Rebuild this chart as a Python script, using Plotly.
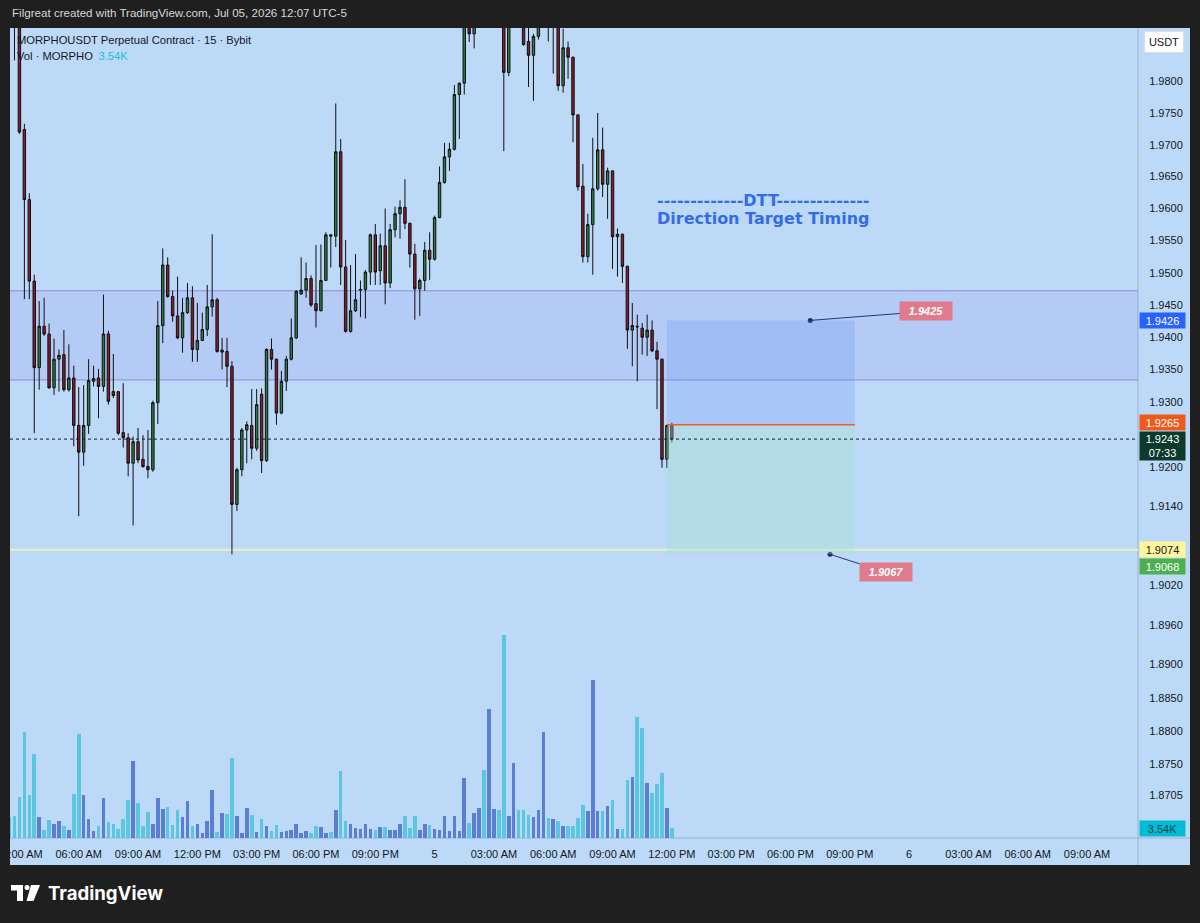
import math
import pandas as pd
import plotly.graph_objects as go

# ---------------- data ----------------
START = "2026-07-04 02:30"   # first 15-minute bar

open_ = [1.9960,1.9950,1.9915,1.9724,1.9614,1.9487,1.9353,1.9417,1.9405,1.9322,
         1.9366,1.9373,1.9319,1.9337,1.9264,1.9223,1.9264,1.9332,1.9337,1.9324,
         1.9405,1.9316,1.9316,1.9253,1.9245,1.9206,1.9239,1.9212,1.9201,1.9196,
         1.9299,1.9418,1.9512,1.9463,1.9433,1.9399,1.9438,1.9461,1.9381,1.9395,
         1.9412,1.9447,1.9458,1.9377,1.9378,1.9355,1.9143,1.9196,1.9257,1.9264,
         1.9229,1.9312,1.9210,1.9381,1.9366,1.9283,1.9332,1.9366,1.9399,1.9467,
         1.9473,1.9491,1.9452,1.9441,1.9488,1.9559,1.9557,1.9689,1.9509,1.9409,
         1.9441,1.9473,1.9474,1.9501,1.9559,1.9503,1.9542,1.9484,1.9567,1.9592,
         1.9602,1.9577,1.9529,1.9475,1.9488,1.9535,1.9521,1.9586,1.9641,1.9681,
         1.9693,1.9779,1.9797,1.9900,1.9875,1.9900,1.9920,1.9905,1.9950,1.9965,
         1.9930,1.9814,1.9900,1.9930,1.9910,1.9863,1.9841,1.9871,1.9900,1.9920,
         1.9890,1.9895,1.9793,1.9853,1.9838,1.9747,1.9635,1.9525,1.9575,1.9631,
         1.9692,1.9638,1.9659,1.9556,1.9560,1.9510,1.9411,1.9417,1.9414,1.9400,
         1.9411,1.9379,1.9366,1.9212,1.9265]

high = [1.9990,1.9965,1.9925,1.9733,1.9624,1.9497,1.9456,1.9461,1.9421,1.9398,
        1.9381,1.9411,1.9389,1.9356,1.9323,1.9326,1.9366,1.9356,1.9351,1.9466,
        1.9410,1.9374,1.9317,1.9329,1.9252,1.9247,1.9260,1.9249,1.9257,1.9302,
        1.9456,1.9538,1.9524,1.9472,1.9494,1.9461,1.9484,1.9479,1.9453,1.9438,
        1.9481,1.9560,1.9461,1.9399,1.9399,1.9363,1.9199,1.9260,1.9270,1.9320,
        1.9320,1.9321,1.9383,1.9398,1.9367,1.9348,1.9371,1.9429,1.9473,1.9524,
        1.9516,1.9496,1.9543,1.9544,1.9563,1.9560,1.9765,1.9709,1.9551,1.9512,
        1.9529,1.9488,1.9504,1.9561,1.9576,1.9561,1.9600,1.9576,1.9603,1.9613,
        1.9646,1.9578,1.9545,1.9491,1.9548,1.9563,1.9589,1.9666,1.9703,1.9703,
        1.9794,1.9798,1.9910,1.9910,1.9910,1.9940,1.9960,1.9970,1.9980,1.9975,
        1.9950,1.9920,1.9950,1.9945,1.9920,1.9890,1.9875,1.9910,1.9940,1.9930,
        1.9910,1.9910,1.9883,1.9863,1.9839,1.9748,1.9670,1.9592,1.9711,1.9750,
        1.9727,1.9664,1.9660,1.9569,1.9561,1.9511,1.9453,1.9435,1.9422,1.9435,
        1.9426,1.9393,1.9367,1.9265,1.9268]

low = [1.9920,1.9833,1.9717,1.9459,1.9459,1.9252,1.9319,1.9402,1.9320,1.9311,
       1.9316,1.9316,1.9316,1.9232,1.9125,1.9202,1.9251,1.9324,1.9275,1.9316,
       1.9296,1.9306,1.9249,1.9230,1.9186,1.9111,1.9206,1.9199,1.9183,1.9193,
       1.9266,1.9391,1.9461,1.9424,1.9397,1.9376,1.9436,1.9362,1.9362,1.9394,
       1.9402,1.9432,1.9376,1.9350,1.9323,1.9067,1.9133,1.9186,1.9206,1.9212,
       1.9225,1.9191,1.9208,1.9350,1.9265,1.9281,1.9317,1.9364,1.9397,1.9466,
       1.9461,1.9447,1.9415,1.9440,1.9487,1.9508,1.9540,1.9481,1.9407,1.9407,
       1.9439,1.9431,1.9429,1.9481,1.9481,1.9481,1.9451,1.9476,1.9555,1.9553,
       1.9568,1.9508,1.9427,1.9433,1.9472,1.9489,1.9519,1.9585,1.9639,1.9659,
       1.9691,1.9709,1.9779,1.9862,1.9852,1.9888,1.9890,1.9895,1.9930,1.9915,
       1.9690,1.9808,1.9888,1.9895,1.9856,1.9791,1.9769,1.9866,1.9889,1.9863,
       1.9812,1.9785,1.9782,1.9804,1.9704,1.9628,1.9516,1.9516,1.9497,1.9628,
       1.9618,1.9584,1.9506,1.9494,1.9484,1.9382,1.9355,1.9332,1.9373,1.9371,
       1.9377,1.9289,1.9199,1.9199,1.9238]

close = [1.9940,1.9915,1.9720,1.9614,1.9487,1.9353,1.9417,1.9405,1.9322,1.9366,
         1.9372,1.9319,1.9337,1.9264,1.9223,1.9264,1.9333,1.9336,1.9324,1.9405,
         1.9301,1.9310,1.9252,1.9245,1.9206,1.9239,1.9211,1.9201,1.9196,1.9299,
         1.9418,1.9512,1.9463,1.9433,1.9399,1.9438,1.9461,1.9381,1.9395,1.9412,
         1.9447,1.9458,1.9378,1.9380,1.9355,1.9143,1.9196,1.9257,1.9265,1.9229,
         1.9296,1.9210,1.9381,1.9366,1.9283,1.9332,1.9366,1.9399,1.9471,1.9473,
         1.9491,1.9450,1.9441,1.9488,1.9559,1.9557,1.9689,1.9509,1.9409,1.9441,
         1.9458,1.9474,1.9501,1.9559,1.9501,1.9542,1.9484,1.9567,1.9592,1.9602,
         1.9577,1.9529,1.9475,1.9488,1.9535,1.9521,1.9586,1.9641,1.9681,1.9693,
         1.9779,1.9797,1.9895,1.9875,1.9900,1.9920,1.9905,1.9950,1.9965,1.9930,
         1.9814,1.9900,1.9930,1.9910,1.9858,1.9841,1.9871,1.9900,1.9920,1.9895,
         1.9895,1.9793,1.9853,1.9838,1.9747,1.9634,1.9525,1.9575,1.9631,1.9692,
         1.9638,1.9659,1.9556,1.9560,1.9510,1.9411,1.9418,1.9416,1.9400,1.9411,
         1.9379,1.9366,1.9212,1.9264,1.9243]

volume_k = [7.33,7.89,14.41,37.52,15.33,29.74,7.43,2.83,6.48,5.06,
            6.12,4.14,2.73,15.68,36.92,15.33,6.83,2.37,4.14,14.27,
            5.56,5.06,3.08,6.62,13.45,27.36,12.28,4.25,9.31,4.85,
            14.27,10.37,10.87,4.60,10.02,7.33,13.10,4.25,5.06,1.88,
            5.91,16.89,2.23,8.96,8.39,28.43,7.89,1.77,10.73,8.25,
            2.12,6.83,4.25,2.37,4.60,2.12,2.48,2.83,5.06,1.77,
            2.48,1.88,4.25,3.79,1.77,2.23,10.02,23.61,5.91,5.06,
            3.54,3.19,5.06,3.08,2.73,3.79,3.79,2.73,2.73,5.06,
            7.89,3.43,7.89,2.73,5.06,4.71,3.19,2.73,7.89,2.37,
            7.89,2.48,21.24,5.42,8.96,10.62,24.18,45.67,10.37,9.91,
            71.97,7.89,26.55,10.02,10.02,8.25,7.33,9.91,37.52,7.19,
            6.83,6.02,4.14,4.35,4.35,7.19,11.68,9.56,55.93,9.56,
            9.45,11.33,13.56,3.08,3.08,20.53,21.49,42.94,38.94,19.36,
            15.93,19.12,23.12,10.73,3.54]

# drawings / levels
zone_top = 1.9472
zone_bottom = 1.9334
support_level = 1.9074
target_price = 1.9426
entry_price = 1.9265
stop_price = 1.9068
last_price = 1.9243
countdown = "07:33"
target_label = "1.9425"
stop_label = "1.9067"
target_dot = ("2026-07-05 19:00", 1.9426)
stop_dot = ("2026-07-05 20:00", 1.9067)
position_start = "2026-07-05 11:45"
position_end = "2026-07-05 21:15"

price_ticks = [1.9800, 1.9750, 1.9700, 1.9650, 1.9600, 1.9550, 1.9500, 1.9450,
               1.9400, 1.9350, 1.9300, 1.9200, 1.9140, 1.9020, 1.8960,
               1.8900, 1.8850, 1.8800, 1.8750, 1.8705]

time_ticks = pd.date_range("2026-07-04 03:00", "2026-07-06 09:00", freq="3h")
time_labels = ["03:00 AM", "06:00 AM", "09:00 AM", "12:00 PM", "03:00 PM", "06:00 PM", "09:00 PM",
               "5", "03:00 AM", "06:00 AM", "09:00 AM", "12:00 PM", "03:00 PM", "06:00 PM", "09:00 PM",
               "6", "03:00 AM", "06:00 AM", "09:00 AM"]

# ---------------- figure ----------------
times = pd.date_range(START, periods=len(open_), freq="15min")

W, H = 1200, 923
ML, MR, MT, MB = 10, 62, 28, 85
PW, PH = W - ML - MR, H - MT - MB


def px_x(px):
    return (px - ML) / PW


def px_y(py):
    return (MT + PH - py) / PH


BG = "#bcd9f8"
DARK = "#1f1f1f"
TXT = "#131722"
AX_FONT = "Liberation Sans, Arial, sans-serif"
UP_VOL = "#5b7dd3"
DN_VOL = "#5cc6e0"
DTT_BLUE = "#356ce6"

x_range = ["2026-07-04 02:31:25", "2026-07-06 11:34:40"]
y_low, y_high = 1.86405, 1.98843
vol_axis_max = 286.7

vol_colors = [UP_VOL if c >= o else DN_VOL for o, c in zip(open_, close)]

fig = go.Figure()
fig.add_trace(go.Bar(x=times, y=volume_k, yaxis="y2", marker=dict(color=vol_colors, line=dict(width=0)),
                     width=15 * 60 * 1000 * 0.72, hoverinfo="skip", showlegend=False))
fig.add_trace(go.Candlestick(
    x=times, open=open_, high=high, low=low, close=close,
    increasing=dict(line=dict(color="#101010", width=1), fillcolor="#2f7a43"),
    decreasing=dict(line=dict(color="#101010", width=1), fillcolor="#8a1b2c"),
    whiskerwidth=0, hoverinfo="skip", showlegend=False))
fig.add_trace(go.Scatter(x=[target_dot[0], stop_dot[0]], y=[target_dot[1], stop_dot[1]], mode="markers",
                         marker=dict(color="#1c2a78", size=5), hoverinfo="skip", showlegend=False))

shapes = []
# chart panel
shapes.append(dict(type="rect", xref="paper", yref="paper", x0=px_x(10), x1=px_x(1190),
                   y0=px_y(865), y1=px_y(28), fillcolor=BG, line=dict(width=0), layer="below"))
# separators
shapes.append(dict(type="line", xref="paper", yref="paper", x0=1, x1=1, y0=px_y(865), y1=px_y(28),
                   line=dict(color="#9cb2cf", width=1), layer="below"))
shapes.append(dict(type="line", xref="paper", yref="paper", x0=px_x(10), x1=px_x(1190), y0=0, y1=0,
                   line=dict(color="#9cb2cf", width=1), layer="below"))
# zone
shapes.append(dict(type="rect", xref="paper", yref="y", x0=0, x1=1, y0=zone_bottom, y1=zone_top,
                   fillcolor="rgba(125,110,225,0.13)", line=dict(width=0), layer="below"))
for lv in (zone_top, zone_bottom):
    shapes.append(dict(type="line", xref="paper", yref="y", x0=0, x1=1, y0=lv, y1=lv,
                       line=dict(color="#9489df", width=1), layer="below"))
# support line
shapes.append(dict(type="line", xref="paper", yref="y", x0=0, x1=1, y0=support_level, y1=support_level,
                   line=dict(color="#e6f4c4", width=2), layer="below"))
# position tool
shapes.append(dict(type="rect", xref="x", yref="y", x0=position_start, x1=position_end,
                   y0=entry_price, y1=target_price, fillcolor="rgba(95,135,240,0.22)",
                   line=dict(width=0), layer="above"))
shapes.append(dict(type="rect", xref="x", yref="y", x0=position_start, x1=position_end,
                   y0=stop_price, y1=entry_price, fillcolor="rgba(165,222,205,0.36)",
                   line=dict(width=0), layer="above"))
shapes.append(dict(type="line", xref="x", yref="y", x0=position_start, x1=position_end,
                   y0=entry_price, y1=entry_price, line=dict(color="#ee5d28", width=1.5), layer="above"))
# last price dotted line
shapes.append(dict(type="line", xref="paper", yref="y", x0=0, x1=1, y0=last_price, y1=last_price,
                   line=dict(color="#1a1a1a", width=1, dash="dot"), layer="above"))
# left frame cover (clips first time label)
shapes.append(dict(type="rect", xref="paper", yref="paper", x0=px_x(0), x1=px_x(10),
                   y0=px_y(923), y1=px_y(0), fillcolor=DARK, line=dict(width=0), layer="above"))


# TradingView logo
def path(points):
    return "M " + " L ".join(f"{px_x(a):.5f},{px_y(b):.5f}" for a, b in points) + " Z"


shapes.append(dict(type="path", xref="paper", yref="paper",
                   path=path([(11, 885), (23, 885), (23, 901), (17, 901), (17, 890.5), (11, 890.5)]),
                   fillcolor="#ffffff", line=dict(width=0)))
shapes.append(dict(type="circle", xref="paper", yref="paper", x0=px_x(24.5), x1=px_x(29.5),
                   y0=px_y(890), y1=px_y(885), fillcolor="#ffffff", line=dict(width=0)))
shapes.append(dict(type="path", xref="paper", yref="paper",
                   path=path([(31, 885), (40, 885), (33.5, 901), (26.5, 901)]),
                   fillcolor="#ffffff", line=dict(width=0)))

L10 = math.log10
ann = []
ann.append(dict(xref="paper", yref="paper", x=px_x(10), y=px_y(13), xanchor="left", yanchor="middle",
                text="Filgreat created with TradingView.com, Jul 05, 2026 12:07 UTC-5", showarrow=False,
                font=dict(family=AX_FONT, size=11.6, color="#d8d8d8")))
ann.append(dict(xref="paper", yref="paper", x=px_x(15), y=px_y(40), xanchor="left", yanchor="middle",
                text="MORPHOUSDT Perpetual Contract · 15 · Bybit", showarrow=False,
                font=dict(family=AX_FONT, size=11.2, color=TXT)))
ann.append(dict(xref="paper", yref="paper", x=px_x(15), y=px_y(56), xanchor="left", yanchor="middle",
                text=f"Vol · MORPHO\u2002<span style='color:#26bfd6'>{volume_k[-1]:.2f}K</span>",
                showarrow=False, font=dict(family=AX_FONT, size=11.2, color=TXT)))
ann.append(dict(xref="paper", yref="paper", x=px_x(655), y=px_y(200), xanchor="left", yanchor="middle",
                text="<b>-------------DTT--------------</b>", showarrow=False,
                font=dict(family="DejaVu Sans", size=16, color=DTT_BLUE)))
ann.append(dict(xref="paper", yref="paper", x=px_x(655), y=px_y(218), xanchor="left", yanchor="middle",
                text="<b>Direction Target Timing</b>", showarrow=False,
                font=dict(family="DejaVu Sans", size=16, color=DTT_BLUE)))
# USDT box
ann.append(dict(xref="paper", yref="paper", x=px_x(1164), y=px_y(42), xanchor="center", yanchor="middle",
                text="USDT", showarrow=False, bgcolor="#ffffff", bordercolor="#d5dde8", borderwidth=1,
                width=36, height=18, font=dict(family=AX_FONT, size=11, color=TXT)))


def axis_box(price, text, bg, fg, yshift=0, height=13, yref="y", logy=True):
    return dict(xref="paper", yref=yref, x=px_x(1139), y=L10(price) if logy else price,
                xanchor="left", yanchor="middle", yshift=yshift, text=text, showarrow=False,
                bgcolor=bg, borderpad=1, width=43, height=height, align="center",
                font=dict(family=AX_FONT, size=11, color=fg))


ann.append(axis_box(target_price, f"{target_price:.4f}", "#2962ff", "#ffffff"))
ann.append(axis_box(entry_price, f"{entry_price:.4f}", "#ef5a1c", "#ffffff", yshift=2))
ann.append(axis_box(last_price, f"{last_price:.4f}<br>{countdown}", "#0c3b2d", "#ffffff", yshift=-7, height=26))
ann.append(axis_box(support_level, f"{support_level:.4f}", "#fff59d", TXT))
ann.append(axis_box(stop_price, f"{stop_price:.4f}", "#4caf50", "#ffffff", yshift=-13))
ann.append(axis_box(volume_k[-1], f"{volume_k[-1]:.2f}K", "#00bcd4", "#0b3f4a", yref="y2", logy=False))

# price labels of the position tool
for (t, p), txt, ax_, ay_ in ((target_dot, target_label, 116, -9), (stop_dot, stop_label, 56, 18)):
    ann.append(dict(xref="x", yref="y", x=t, y=L10(p), ax=ax_, ay=ay_, axref="pixel", ayref="pixel",
                    showarrow=True, arrowhead=0, arrowwidth=1, arrowcolor="#23357f", standoff=0,
                    text=f"<b><i>{txt}</i></b>", bgcolor="#e27a8e", borderpad=1, width=50, height=16,
                    font=dict(family=AX_FONT, size=11, color="#ffffff")))

ann.append(dict(xref="paper", yref="paper", x=px_x(46), y=px_y(893), xanchor="left", yanchor="middle",
                text="<b>TradingView</b>", showarrow=False,
                font=dict(family="Inter, Roboto, sans-serif", size=18.6, color="#ffffff")))

fig.update_layout(
    width=W, height=H, margin=dict(l=ML, r=MR, t=MT, b=MB, autoexpand=False),
    paper_bgcolor=DARK, plot_bgcolor=BG, showlegend=False, hovermode=False,
    bargap=0,
    xaxis=dict(type="date", range=x_range, tickvals=list(time_ticks), ticktext=time_labels,
               showgrid=False, zeroline=False, showline=False, rangeslider=dict(visible=False),
               ticks="outside", ticklen=6, tickcolor="rgba(0,0,0,0)", ticklabeloverflow="allow",
               automargin=False,
               tickfont=dict(family=AX_FONT, size=11, color=TXT), fixedrange=True),
    yaxis=dict(type="log", range=[L10(y_low), L10(y_high)], side="right",
               tickvals=price_ticks, ticktext=[f"{v:.4f}" for v in price_ticks],
               showgrid=False, zeroline=False, showline=False, automargin=False,
               ticks="outside", ticklen=8, tickcolor="rgba(0,0,0,0)",
               tickfont=dict(family=AX_FONT, size=11, color=TXT), fixedrange=True),
    yaxis2=dict(overlaying="y", range=[0, vol_axis_max], visible=False, fixedrange=True),
    shapes=shapes, annotations=ann,
)

fig.write_html("out.html")
